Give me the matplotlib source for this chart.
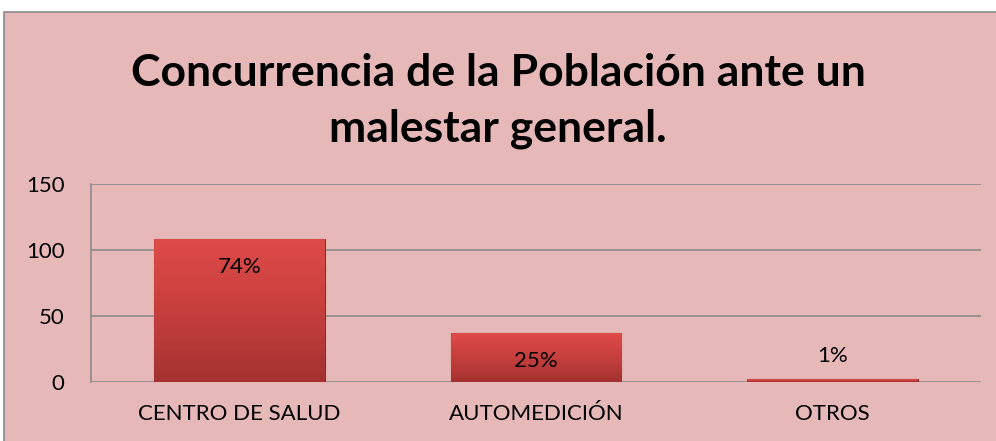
import numpy as np
import matplotlib
matplotlib.use('Agg')
import matplotlib.pyplot as plt
from matplotlib.patches import Rectangle

# data
categories = ['CENTRO DE SALUD', 'AUTOMEDICIÓN', 'OTROS']
counts = [108, 37, 2]
percent_labels = ['74%', '25%', '1%']
y_ticks = [0, 50, 100, 150]

title = 'Concurrencia de la Población ante un\nmalestar general.'

plt.rcParams['font.family'] = ['Lato', 'DejaVu Sans']

bg = '#E6B9B8'
grid_col = '#8C8C8C'

fig = plt.figure(figsize=(9.96, 4.41), dpi=100)
fig.patch.set_facecolor('white')

# chart area (pink box with grey border), kept behind the axes
fig.patches.append(Rectangle((4 / 996, -0.01), 1.0, 1 - 12 / 441 + 0.01,
                             transform=fig.transFigure, facecolor=bg,
                             edgecolor='#8A8A8A', linewidth=1.2, zorder=-10))

ax = fig.add_axes([91 / 996, 1 - 382 / 441, (981 - 91) / 996, (382 - 184) / 441])
ax.patch.set_alpha(0)

x = np.arange(len(categories))
bars = ax.bar(x, counts, width=0.575, color='#C0403E', zorder=3)

# vertical red gradient on each bar
grad = np.linspace(0, 1, 256).reshape(-1, 1)
cmap = matplotlib.colors.LinearSegmentedColormap.from_list(
    'barred', ['#A33230', '#C63F3D', '#DE4A48'])
for b in bars:
    bx, by = b.get_x(), b.get_y()
    bw, bh = b.get_width(), b.get_height()
    im = ax.imshow(grad, extent=[bx, bx + bw, by, by + bh], origin='lower',
                   cmap=cmap, aspect='auto', zorder=3)
    im.set_clip_path(b)
    b.set_facecolor('none')
    b.set_edgecolor('#8E2A28')
    b.set_linewidth(0.8)

for xi, v, lab in zip(x, counts, percent_labels):
    if v > 20:
        off = -20
    else:
        off = 17
    ax.annotate(lab, (xi, v), xytext=(0, off), textcoords='offset points',
                ha='center', va='center', fontsize=16, color='black', zorder=5)

ax.set_xlim(-0.5, len(categories) - 0.5)
ax.set_ylim(0, 150)
ax.set_yticks(y_ticks)
ax.set_xticks(x)
ax.set_xticklabels(categories)
ax.tick_params(axis='y', length=0, pad=19, labelsize=16)
ax.tick_params(axis='x', length=0, pad=16, labelsize=16)

ax.grid(axis='y', color=grid_col, linewidth=1.2, zorder=1)
ax.set_axisbelow(True)
for s in ['top', 'right', 'bottom']:
    ax.spines[s].set_visible(False)
ax.spines['left'].set_color(grid_col)
ax.spines['left'].set_linewidth(1.2)

fig.text(0.5, 1 - 101 / 441, title, ha='center', va='center',
         fontsize=32, fontweight='bold', linespacing=1.48)

fig.savefig('out.png', dpi=100)
